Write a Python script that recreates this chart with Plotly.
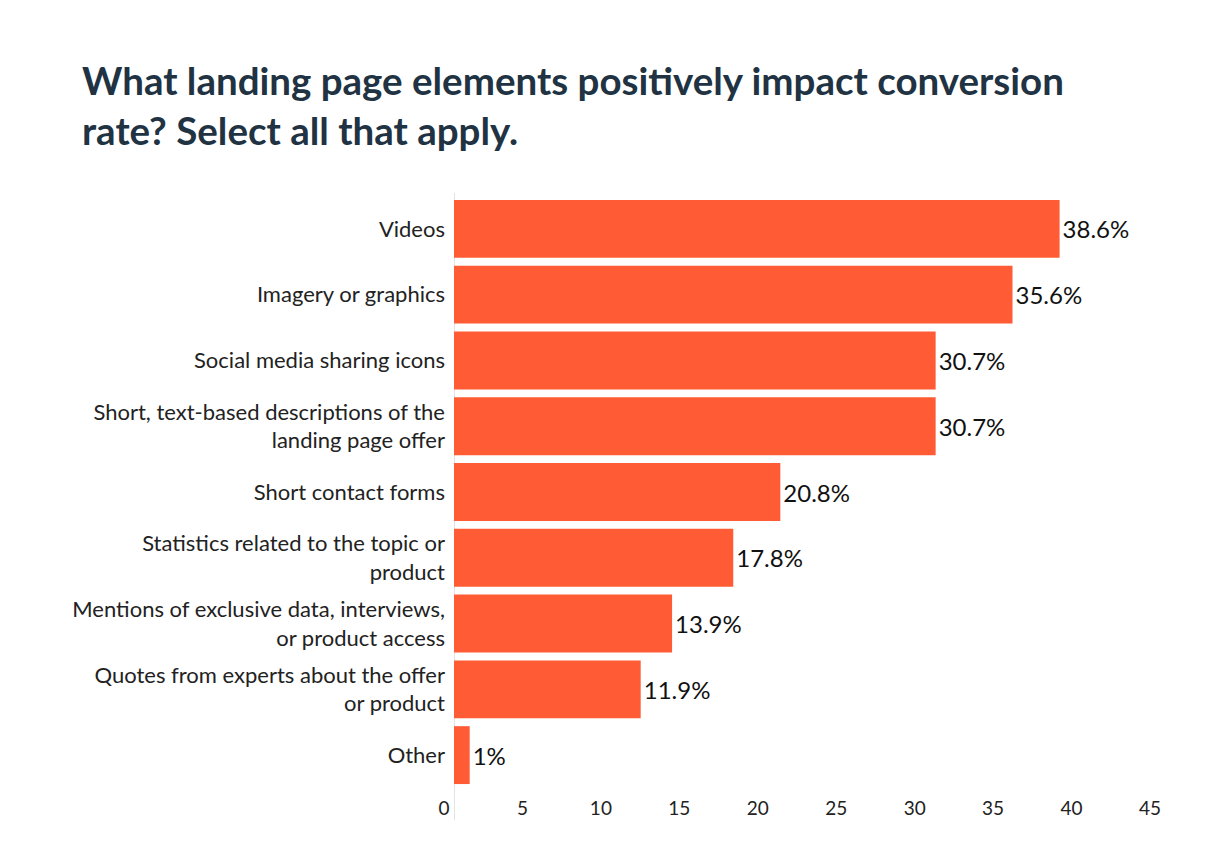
import plotly.graph_objects as go

categories = [
    "Videos",
    "Imagery or graphics",
    "Social media sharing icons",
    "Short, text-based descriptions of the<br>landing page offer",
    "Short contact forms",
    "Statistics related to the topic or<br>product",
    "Mentions of exclusive data, interviews,<br>or product access",
    "Quotes from experts about the offer<br>or product",
    "Other",
]
values = [38.6, 35.6, 30.7, 30.7, 20.8, 17.8, 13.9, 11.9, 1]
value_labels = ["38.6%", "35.6%", "30.7%", "30.7%", "20.8%", "17.8%", "13.9%", "11.9%", "1%"]
x_ticks = [0, 5, 10, 15, 20, 25, 30, 35, 40, 45]

W, H = 1222, 859
left, right, top, bottom = 446, 1152, 188, 780

fig = go.Figure(
    go.Bar(
        x=values,
        y=categories,
        orientation="h",
        marker=dict(color="#FF5C35", line=dict(width=0)),
        text=value_labels,
        textposition="outside",
        textfont=dict(family="Lato", size=24, color="#111111"),
        cliponaxis=False,
        width=0.88,
    )
)

fig.update_layout(
    width=W,
    height=H,
    paper_bgcolor="white",
    plot_bgcolor="white",
    margin=dict(l=left, r=W - right, t=top, b=H - bottom),
    showlegend=False,
    title=dict(
        text="What landing page elements positively impact conversion<br>rate? Select all that apply.",
        font=dict(family="Lato", size=38.5, color="#213343", weight="bold"),
        x=74 / W,
        xref="container",
        xanchor="left",
        y=1 - 87 / H,
        yref="container",
        yanchor="top",
    ),
    xaxis=dict(
        range=[0, 45],
        tickvals=x_ticks,
        ticktext=[str(t) for t in x_ticks],
        showgrid=False,
        zeroline=False,
        showline=False,
        ticks="",
        tickfont=dict(family="Lato", size=19, color="#222222"),
        ticklabelshift=-10,
        ticklabelstandoff=7,
    ),
    yaxis=dict(
        autorange="reversed",
        showgrid=False,
        zeroline=False,
        showline=False,
        ticks="",
        tickfont=dict(family="Lato", size=22, color="#222222"),
        ticklabelstandoff=8,
    ),
    shapes=[
        dict(
            type="line",
            xref="x",
            yref="paper",
            x0=0,
            x1=0,
            y0=-(812 - bottom) / (bottom - top),
            y1=1 + (top - 185) / (bottom - top),
            line=dict(color="#e3e3e3", width=2),
            layer="below",
        )
    ],
)

fig.write_html("out.html")
